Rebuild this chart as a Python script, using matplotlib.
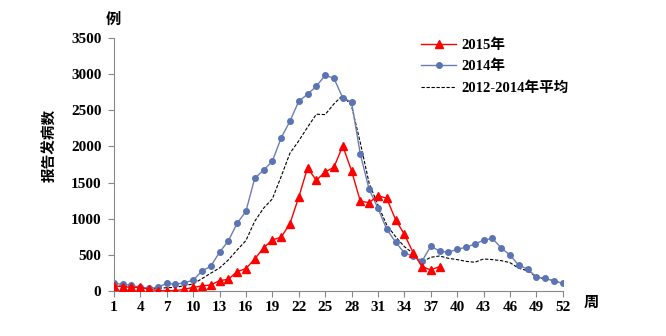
import matplotlib
matplotlib.use('Agg')
import matplotlib.pyplot as plt

plt.rcParams['font.family'] = ['Liberation Serif', 'Noto Sans CJK SC']
plt.rcParams['font.weight'] = 'bold'

weeks = list(range(1, 53))

cases_2015 = [70, 60, 50, 50, 23, 5, 5, 5, 23, 50, 70, 83, 143, 161, 268, 309, 443, 595, 706, 743,
              932, 1296, 1702, 1531, 1647, 1711, 2006, 1665, 1241, 1222, 1319, 1282, 987, 784, 530,
              337, 291, 337]

cases_2014 = [106, 92, 78, 50, 37, 50, 106, 92, 115, 148, 277, 341, 535, 692, 936, 1102, 1559, 1670,
              1794, 2117, 2348, 2624, 2721, 2832, 2984, 2943, 2671, 2615, 1891, 1407, 1144, 853, 678,
              526, 480, 410, 618, 553, 535, 577, 604, 650, 701, 729, 595, 498, 355, 304, 194, 175,
              138, 106]

avg_2012_2014 = [80, 60, 55, 40, 30, 35, 45, 50, 74, 97, 170, 245, 318, 429, 567, 697, 964, 1144,
                 1273, 1582, 1905, 2076, 2265, 2445, 2440, 2588, 2708, 2560, 2050, 1490, 1190, 913,
                 752, 613, 521, 401, 466, 484, 452, 434, 410, 397, 443, 434, 420, 392, 314, 281, 194,
                 166, 143, 106]

xticks = list(range(1, 53, 3))
yticks = list(range(0, 3501, 500))

fig = plt.figure(figsize=(6.66, 3.36), dpi=100)
ax = fig.add_axes([0.171, 0.134, 0.674, 0.753])

ax.plot(weeks[:len(cases_2015)], cases_2015, color='#FF0000', lw=1.0, marker='^',
        markersize=6, label='2015年', zorder=3)
ax.plot(weeks, cases_2014, color='#6E7DB4', lw=1.0, marker='o', markersize=4,
        markerfacecolor='#5A74B4', markeredgecolor='#5A74B4', label='2014年', zorder=2)
ax.plot(weeks, avg_2012_2014, color='black', lw=0.8, ls=(0, (3, 1.5)),
        label='2012-2014年平均', zorder=1)

ax.set_xlim(1, 52)
ax.set_ylim(0, 3500)
ax.set_xticks(xticks)
ax.set_yticks(yticks)
ax.tick_params(axis='both', labelsize=11, color='#888888', length=4, width=0.8)
ax.tick_params(axis='x', pad=3)
ax.tick_params(axis='y', pad=5)
for s in ['top', 'right']:
    ax.spines[s].set_visible(False)
for s in ['left', 'bottom']:
    ax.spines[s].set_color('#888888')
    ax.spines[s].set_linewidth(0.8)

fig.text(0.075, 0.568, '报告发病数', rotation=90, ha='center', va='center', fontsize=10.5)
fig.text(0.17, 0.94, '例', ha='center', va='center', fontsize=11)
fig.text(0.888, 0.098, '周', ha='center', va='center', fontsize=11)

ax.legend(loc='upper left', bbox_to_anchor=(0.655, 1.05), frameon=False, fontsize=10.5,
          handlelength=2.4, labelspacing=0.55, handletextpad=0.4)

fig.savefig('out.png', dpi=100)
